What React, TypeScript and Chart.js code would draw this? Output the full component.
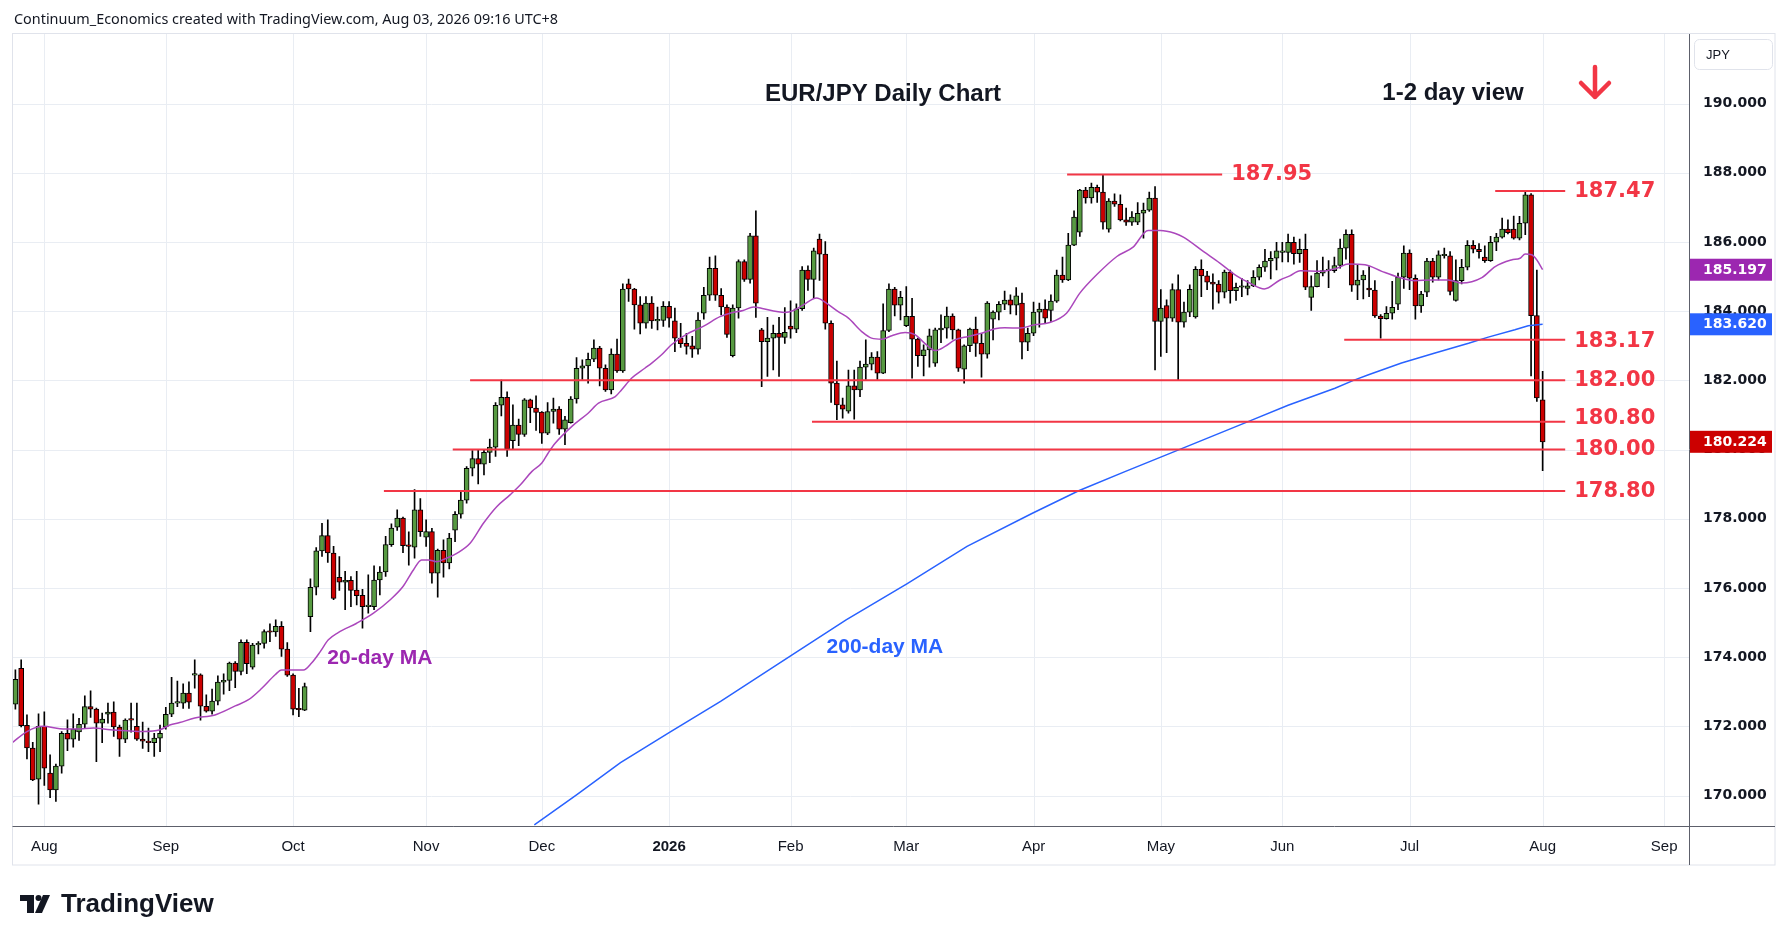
import React, { useEffect, useRef } from "react";
import { Chart, registerables } from "chart.js";

Chart.register(...registerables);

const W = 1789;
const H = 941;

// ---- Daily candles, first bar = index -5 (late Jul 2025), last = index 259 (Aug 03, 2026)
const FIRST_BAR = -5;

const opens = [
  172.64, 173.68, 172.03, 171.37, 170.47, 172.0, 170.65, 170.16, 170.85, 171.8,
  171.63, 171.84, 172.06, 172.57, 172.5, 172.09, 172.35, 172.41, 171.98, 171.63,
  172.22, 172.0, 171.63, 171.57, 171.53, 171.66, 171.98, 172.35, 172.67, 172.67,
  172.96, 173.48, 173.49, 172.58, 172.44, 172.73, 173.28, 173.33, 173.83, 173.59,
  174.43, 173.71, 174.35, 174.4, 174.74, 174.73, 174.89, 174.23, 173.48, 172.5,
  172.47, 175.17, 176.02, 177.07, 177.51, 177.01, 176.31, 176.17, 176.22, 175.94,
  175.79, 175.46, 175.46, 176.23, 176.46, 177.25, 177.76, 178.02, 177.22, 177.18,
  178.26, 177.47, 177.63, 176.43, 177.09, 176.72, 177.67, 178.13, 178.54, 179.46,
  179.74, 179.58, 179.92, 180.07, 181.28, 181.51, 180.26, 180.71, 180.44, 181.44,
  181.2, 181.08, 180.47, 181.1, 181.17, 180.59, 180.78, 181.46, 182.35, 182.42,
  182.61, 182.93, 182.35, 181.72, 182.76, 182.27, 184.79, 184.64, 184.18, 183.65,
  184.23, 183.72, 183.73, 184.14, 183.72, 183.22, 183.07, 183.0, 182.9, 183.94,
  184.46, 185.24, 184.46, 184.12, 182.71, 184.09, 185.43, 184.92, 186.18, 183.46,
  183.12, 183.22, 183.36, 183.24, 183.57, 183.48, 184.07, 185.19, 184.92, 186.08,
  185.65, 183.65, 181.92, 181.29, 181.11, 181.84, 181.72, 182.38, 182.47, 182.67,
  182.21, 183.44, 184.64, 184.17, 183.58, 183.85, 183.19, 182.71, 182.88, 182.5,
  183.46, 183.51, 183.86, 183.46, 182.32, 183.0, 183.48, 183.07, 182.76, 183.77,
  183.97, 184.2, 184.33, 184.17, 184.23, 183.1, 183.36, 183.97, 184.06, 184.02,
  184.29, 185.04, 184.9, 185.91, 186.28, 187.5, 187.27, 187.58, 187.44, 186.37,
  187.18, 187.09, 186.64, 186.57, 186.57, 186.83, 186.92, 187.27, 183.7, 184.16,
  183.8, 184.62, 183.68, 183.97, 183.83, 185.21, 185.02, 184.84, 184.78, 184.55,
  185.13, 184.59, 184.69, 184.66, 184.73, 184.98, 185.27, 185.45, 185.53, 185.7,
  185.7, 185.99, 185.66, 185.79, 184.4, 184.71, 185.1, 185.17, 185.17, 185.32,
  185.82, 186.22, 184.75, 184.9, 184.67, 184.61, 183.86, 183.78, 183.94, 184.2,
  184.98, 185.68, 184.95, 184.15, 184.55, 185.45, 184.98, 185.6, 185.6, 184.31,
  184.88, 185.27, 185.9, 185.79, 185.56, 185.46, 185.99, 186.14, 186.37, 186.37,
  186.11, 186.54, 187.36, 183.87, 181.44,
];

const highs = [
  173.63, 173.92, 172.33, 171.54, 172.36, 172.42, 171.18, 170.91, 171.85, 172.19,
  172.36, 172.23, 172.88, 173.03, 172.53, 172.38, 172.67, 172.71, 172.04, 172.22,
  172.67, 172.67, 172.12, 171.95, 171.8, 172.04, 172.55, 173.42, 173.31, 173.23,
  173.29, 173.92, 173.52, 172.91, 173.08, 173.46, 173.52, 173.86, 173.87, 174.5,
  174.5, 174.4, 174.45, 174.79, 174.96, 175.08, 175.03, 174.42, 173.52, 173.1,
  173.25, 176.26, 177.17, 177.87, 177.97, 177.2, 176.91, 176.48, 176.33, 176.48,
  175.96, 176.38, 176.64, 176.62, 177.49, 177.85, 178.26, 178.05, 177.62, 178.84,
  178.58, 177.97, 177.72, 177.12, 177.39, 177.58, 178.21, 178.78, 179.51, 179.97,
  179.99, 179.99, 180.3, 181.36, 182.01, 181.67, 181.29, 180.88, 181.47, 181.46,
  181.55, 181.1, 181.36, 181.49, 181.24, 180.96, 181.53, 182.66, 182.59, 182.79,
  183.17, 182.98, 182.45, 182.91, 183.19, 184.79, 184.93, 184.66, 184.42, 184.42,
  184.42, 184.12, 184.28, 184.28, 184.09, 183.65, 183.36, 183.27, 183.96, 184.69,
  185.56, 185.6, 184.65, 184.18, 184.18, 185.48, 185.48, 186.25, 186.9, 183.5,
  183.82, 183.6, 183.82, 184.1, 184.3, 184.21, 185.29, 185.31, 185.82, 186.23,
  186.01, 183.72, 182.56, 181.49, 182.3, 182.3, 182.56, 183.17, 182.8, 182.83,
  184.21, 184.79, 184.69, 184.57, 184.71, 184.37, 183.22, 183.03, 183.48, 183.51,
  183.89, 184.12, 183.92, 183.48, 183.03, 183.51, 183.83, 183.36, 184.28, 184.01,
  184.28, 184.58, 184.47, 184.68, 184.52, 183.51, 184.26, 184.23, 184.33, 184.47,
  185.19, 185.56, 186.25, 186.9, 187.52, 187.58, 187.7, 187.64, 187.95, 187.25,
  187.39, 187.36, 186.98, 186.88, 187.14, 187.12, 187.44, 187.6, 184.62, 184.33,
  184.79, 185.05, 184.26, 184.76, 185.29, 185.48, 185.15, 185.08, 184.88, 185.19,
  185.19, 184.81, 184.95, 184.88, 185.17, 185.34, 185.79, 185.72, 185.99, 185.99,
  186.23, 186.14, 186.08, 186.23, 185.02, 185.46, 185.56, 185.46, 185.56, 186.08,
  186.35, 186.35, 185.34, 185.17, 185.29, 184.88, 183.9, 184.13, 184.86, 185.1,
  185.89, 185.77, 185.05, 184.57, 185.53, 185.53, 185.74, 185.82, 185.72, 185.48,
  185.5, 186.04, 186.04, 185.95, 185.89, 186.16, 186.25, 186.69, 186.64, 186.75,
  186.74, 187.47, 187.4, 185.19, 182.26,
];

const lows = [
  172.5, 171.98, 171.06, 170.43, 169.75, 170.29, 169.94, 169.83, 170.65, 171.3,
  171.4, 171.59, 171.95, 172.26, 170.98, 171.53, 172.09, 171.71, 171.13, 171.53,
  171.83, 171.59, 171.36, 171.27, 171.13, 171.27, 171.92, 172.28, 172.57, 172.52,
  172.52, 173.1, 172.18, 172.41, 172.35, 172.62, 172.93, 173.03, 173.12, 173.49,
  173.52, 173.65, 174.09, 174.26, 174.45, 174.6, 174.02, 173.44, 172.33, 172.28,
  172.45, 174.74, 175.8, 176.91, 176.74, 175.66, 175.93, 175.37, 175.46, 175.51,
  174.84, 175.27, 175.37, 175.8, 176.33, 177.2, 177.66, 177.02, 176.66, 176.86,
  177.49, 177.2, 176.14, 175.73, 176.31, 176.55, 177.34, 178.02, 178.45, 179.24,
  179.01, 179.27, 179.62, 179.8, 180.97, 179.8, 180.01, 180.11, 180.38, 180.78,
  180.55, 180.18, 180.43, 180.76, 180.44, 180.14, 180.76, 181.34, 182.03, 181.92,
  182.54, 181.84, 181.68, 181.61, 182.23, 182.23, 184.28, 183.48, 183.34, 183.51,
  183.5, 183.46, 183.56, 183.54, 182.83, 182.95, 182.76, 182.66, 182.76, 183.77,
  184.31, 184.31, 183.89, 183.24, 182.68, 183.8, 184.86, 184.81, 183.82, 181.82,
  182.11, 182.3, 182.11, 183.07, 183.22, 183.38, 184.02, 184.6, 184.39, 184.89,
  183.48, 181.36, 180.86, 180.91, 181.05, 180.88, 181.53, 182.03, 182.3, 182.03,
  182.19, 183.41, 183.86, 183.75, 183.55, 182.06, 182.4, 182.13, 182.38, 182.4,
  183.09, 183.22, 183.19, 182.26, 181.92, 182.83, 182.69, 182.09, 182.64, 183.17,
  183.75, 184.04, 183.92, 183.89, 182.62, 182.86, 183.29, 183.54, 183.67, 183.7,
  184.25, 184.83, 184.88, 185.89, 186.16, 187.12, 187.12, 187.14, 186.37, 186.28,
  187.03, 186.61, 186.48, 186.48, 186.5, 186.11, 186.88, 182.3, 182.69, 182.8,
  183.7, 182.01, 183.54, 183.84, 183.8, 184.42, 184.62, 184.06, 184.23, 184.38,
  184.23, 184.31, 184.42, 184.47, 184.71, 184.9, 185.15, 184.93, 185.19, 185.42,
  185.42, 185.36, 185.41, 184.62, 184.02, 184.7, 185.02, 184.68, 185.12, 185.24,
  185.5, 184.57, 184.33, 184.35, 184.42, 183.82, 183.22, 183.77, 183.77, 184.04,
  184.66, 184.62, 183.77, 183.96, 184.42, 184.84, 184.9, 185.53, 184.47, 184.29,
  184.79, 185.19, 185.68, 185.53, 185.41, 185.44, 185.75, 186.11, 186.23, 186.08,
  186.06, 186.21, 182.13, 181.39, 179.39,
];

const closes = [
  173.36, 172.02, 171.38, 170.45, 172.0, 170.79, 170.16, 170.85, 171.8, 171.63,
  171.92, 172.06, 172.57, 172.5, 172.09, 172.21, 172.41, 171.98, 171.63, 172.18,
  172.18, 171.63, 171.57, 171.53, 171.66, 171.8, 172.35, 172.67, 172.69, 172.96,
  172.7, 173.51, 172.58, 172.44, 172.73, 173.28, 173.33, 173.83, 173.59, 174.43,
  173.81, 174.35, 174.4, 174.74, 174.72, 174.89, 174.23, 173.48, 172.5, 172.48,
  173.15, 176.02, 177.07, 177.51, 177.01, 175.7, 176.17, 176.22, 175.93, 175.78,
  175.46, 175.48, 176.23, 176.46, 177.25, 177.73, 178.02, 177.22, 177.2, 178.26,
  177.63, 177.63, 176.43, 177.09, 176.72, 177.44, 178.13, 178.54, 179.46, 179.74,
  179.58, 179.92, 180.07, 181.28, 181.51, 180.01, 180.71, 180.44, 181.44, 181.2,
  181.07, 180.47, 181.1, 181.17, 180.59, 180.86, 181.46, 182.35, 182.42, 182.61,
  182.93, 182.35, 181.72, 182.76, 182.27, 184.64, 184.64, 184.18, 183.65, 184.23,
  183.72, 183.74, 184.14, 183.8, 183.22, 183.06, 182.98, 182.9, 183.74, 184.46,
  185.24, 184.46, 184.12, 183.33, 184.09, 185.43, 184.92, 186.18, 184.23, 183.12,
  183.22, 183.36, 183.24, 183.39, 183.48, 184.07, 185.19, 184.92, 185.74, 185.65,
  183.65, 181.92, 181.29, 181.17, 181.84, 181.72, 182.38, 182.47, 182.67, 182.21,
  183.44, 184.64, 184.17, 184.4, 183.85, 183.19, 182.71, 182.88, 183.29, 183.46,
  183.51, 183.86, 183.46, 182.35, 183.0, 183.48, 183.07, 182.76, 184.23, 183.97,
  184.2, 184.32, 184.17, 184.44, 183.1, 183.36, 183.97, 184.06, 183.8, 184.29,
  185.04, 184.9, 185.91, 186.72, 187.5, 187.27, 187.58, 187.44, 186.57, 187.18,
  187.09, 186.64, 186.57, 186.72, 186.83, 186.92, 187.27, 183.7, 184.09, 183.8,
  184.62, 183.68, 183.97, 184.63, 185.21, 185.02, 184.84, 184.78, 184.55, 185.13,
  184.59, 184.69, 184.71, 184.73, 184.98, 185.27, 185.45, 185.53, 185.74, 185.72,
  185.99, 185.66, 185.79, 184.69, 184.71, 185.1, 185.17, 185.19, 185.32, 185.82,
  186.22, 184.75, 184.9, 185.04, 184.61, 183.86, 183.78, 183.94, 184.11, 184.98,
  185.68, 184.95, 184.15, 184.49, 185.45, 184.98, 185.63, 185.62, 184.57, 184.88,
  185.27, 185.9, 185.79, 185.72, 185.46, 185.99, 186.14, 186.37, 186.27, 186.11,
  186.54, 187.36, 183.87, 181.49, 180.224,
];

// ---- 20-day MA (bar position, value)
const ma20X = [
  -5.6, -3.0, -0.2, 2.7, 5.6, 8.5, 11.4, 14.2, 17.1, 20.0, 21.7, 23.4, 26.0, 29.5, 33.0, 35.3,
  37.6, 39.9, 41.0, 44.8, 46.2, 47.7, 49.1, 50.8, 54.0, 56.9, 59.8, 62.0, 63.8, 65.2, 66.4,
  67.8, 69.5, 71.3, 73.6, 75.9, 78.2, 80.5, 82.3, 84.3, 86.0, 87.1, 88.3, 91.2, 94.0, 95.8,
  98.7, 99.8, 101.5, 103.8, 105.0, 106.7, 108.4, 111.0, 113.9, 116.8, 118.5, 120.8, 122.6,
  124.3, 126.6, 128.0, 129.5, 131.2, 133.5, 135.2, 137.3, 139.0, 141.3, 143.0, 144.8, 146.5,
  148.8, 150.5, 152.2, 154.0, 155.7, 157.4, 159.7, 162.0, 164.3, 166.0, 168.7, 171.0, 173.8,
  176.7, 179.0, 181.9, 185.4, 188.2, 190.8, 192.9, 195.4, 196.9, 200.4, 203.2, 206.1, 208.4,
  210.9, 213.6, 215.3, 217.1, 220.5, 223.4, 225.4, 228.3, 231.2, 234.1, 236.9, 239.8, 242.7,
  245.0, 248.5, 250.8, 253.6, 255.1, 256.0, 257.1, 258.0, 259.0,
];
const ma20Y = [
  171.52, 171.85, 172.0, 171.93, 171.92, 171.95, 171.9, 171.87, 171.85, 171.9, 172.04, 172.11,
  172.24, 172.33, 172.59, 172.77, 173.1, 173.49, 173.63, 173.63, 173.83, 174.16, 174.5, 174.71,
  174.98, 175.27, 175.66, 176.04, 176.52, 176.81, 176.81, 176.76, 176.86, 177.0, 177.29, 177.87,
  178.35, 178.69, 178.98, 179.37, 179.61, 179.9, 180.18, 180.67, 181.05, 181.34, 181.53, 181.73,
  182.06, 182.35, 182.5, 182.74, 183.03, 183.33, 183.56, 183.84, 183.94, 184.02, 184.12, 184.07,
  183.99, 183.96, 184.02, 184.18, 184.38, 184.23, 183.98, 183.8, 183.41, 183.22, 183.19, 183.29,
  183.38, 183.32, 183.07, 182.86, 182.98, 183.17, 183.27, 183.36, 183.49, 183.52, 183.51, 183.6,
  183.67, 183.94, 184.52, 185.05, 185.58, 185.85, 186.33, 186.33, 186.25, 186.14, 185.72, 185.39,
  185.02, 184.81, 184.64, 184.9, 185.02, 185.17, 185.15, 185.24, 185.36, 185.34, 185.15, 184.98,
  184.88, 184.9, 184.9, 184.81, 184.97, 185.29, 185.48, 185.53, 185.65, 185.63, 185.48, 185.197,
];

// ---- 200-day MA (bar position, value)
const ma200X = [
  84.7, 92.0, 99.6, 108.0, 116.9, 129.0, 138.6, 149.1, 159.5, 170.8, 178.8, 186.9, 196.5,
  208.4, 215.0, 223.1, 226.3, 228.9, 234.6, 240.4, 246.2, 249.6, 254.2, 256.5, 259.0,
];
const ma200Y = [
  169.15, 170.02, 170.95, 171.82, 172.72, 174.04, 175.08, 176.12, 177.2, 178.16, 178.81, 179.37,
  180.02, 180.83, 181.28, 181.77, 182.0, 182.16, 182.5, 182.79, 183.07, 183.25, 183.46, 183.58,
  183.62,
];

// ---- Horizontal levels
const levelValues = [187.95, 187.47, 183.17, 182.0, 180.8, 180.0, 178.8];
const levelTexts = ["187.95", "187.47", "183.17", "182.00", "180.80", "180.00", "178.80"];
const levelStart = [176.8, 250.8, 224.7, 73.6, 132.7, 70.6, 58.7];
const levelEnd = [203.6, 262.9, 262.9, 262.9, 262.9, 262.9, 262.9];

// ---- Axes
const monthIdx = [0, 21, 43, 66, 86, 108, 129, 149, 171, 193, 214, 236, 259, 280];
const monthLabels = ["Aug", "Sep", "Oct", "Nov", "Dec", "2026", "Feb", "Mar", "Apr", "May", "Jun", "Jul", "Aug", "Sep"];
const priceTicks = [170, 172, 174, 176, 178, 180, 182, 184, 186, 188, 190];

const lastMa20 = 185.197;
const lastMa200 = 183.62;
const lastClose = 180.224;

const GREEN = "#579a41";
const RED_CANDLE = "#cc0000";
const LEVEL_RED = "#f23645";
const PURPLE = "#ab47bc";
const BLUE = "#2962ff";
const GRID = "#e9edf3";
const TEXT = "#131722";

const PLOT_LEFT = 12.5;
const PLOT_TOP = 34;
const PLOT_RIGHT = 1689;
const PLOT_BOTTOM = 826;

export default function App() {
  const ref = useRef<HTMLCanvasElement>(null);

  useEffect(() => {
    document.body.style.margin = "0";
    const canvas = ref.current;
    if (!canvas) return;

    const bodies = opens.map((o, k) => ({ x: FIRST_BAR + k, y: [o, closes[k]] }));
    const wicks = lows.map((l, k) => ({ x: FIRST_BAR + k, y: [l, highs[k]] }));
    const fills = opens.map((o, k) => (closes[k] >= o ? GREEN : RED_CANDLE));

    const levelSets = levelValues.map((v, k) => ({
      type: "line" as const,
      data: [
        { x: levelStart[k], y: v },
        { x: levelEnd[k], y: v },
      ],
      borderColor: LEVEL_RED,
      borderWidth: 2,
      pointRadius: 0,
      order: 1,
    }));

    const overlay = {
      id: "overlay",
      beforeDatasetsDraw(chart: any) {
        const { ctx, chartArea, scales } = chart;
        const xs = scales.x;
        const ys = scales.y;
        ctx.save();
        ctx.strokeStyle = GRID;
        ctx.lineWidth = 1;
        for (const v of priceTicks) {
          const py = Math.round(ys.getPixelForValue(v)) + 0.5;
          ctx.beginPath();
          ctx.moveTo(chartArea.left, py);
          ctx.lineTo(chartArea.right, py);
          ctx.stroke();
        }
        for (const i of monthIdx) {
          const px = Math.round(xs.getPixelForValue(i)) + 0.5;
          ctx.beginPath();
          ctx.moveTo(px, chartArea.top);
          ctx.lineTo(px, chartArea.bottom);
          ctx.stroke();
        }
        ctx.restore();
      },
      afterDraw(chart: any) {
        const { ctx, scales } = chart;
        const xs = scales.x;
        const ys = scales.y;
        ctx.save();

        // header
        ctx.fillStyle = TEXT;
        ctx.textBaseline = "middle";
        ctx.textAlign = "left";
        ctx.font = '14.4px "Noto Sans"';
        ctx.fillText("Continuum_Economics created with TradingView.com, Aug 03, 2026 09:16 UTC+8", 14, 20);

        // frame
        ctx.strokeStyle = "#e0e3eb";
        ctx.lineWidth = 1;
        ctx.strokeRect(12.5, 33.5, 1775 - 12.5, 865 - 33.5);

        // axis separators
        ctx.strokeStyle = "#5d606b";
        ctx.beginPath();
        ctx.moveTo(PLOT_RIGHT + 0.5, PLOT_TOP);
        ctx.lineTo(PLOT_RIGHT + 0.5, 865);
        ctx.moveTo(PLOT_LEFT, PLOT_BOTTOM + 0.5);
        ctx.lineTo(1775, PLOT_BOTTOM + 0.5);
        ctx.stroke();

        // price axis labels
        ctx.fillStyle = TEXT;
        ctx.font = 'bold 14px "DejaVu Sans"';
        for (const v of priceTicks) {
          ctx.fillText(v.toFixed(3), 1703, ys.getPixelForValue(v));
        }

        // JPY box
        ctx.strokeStyle = "#e0e3eb";
        ctx.beginPath();
        (ctx as any).roundRect(1694.5, 39.5, 78, 30, 5);
        ctx.stroke();
        ctx.fillStyle = TEXT;
        ctx.font = '13px "Liberation Sans"';
        ctx.fillText("JPY", 1706, 55);

        // value boxes
        const box = (v: number, color: string) => {
          const py = ys.getPixelForValue(v);
          ctx.fillStyle = color;
          ctx.fillRect(PLOT_RIGHT + 1, py - 11, 82, 22);
          ctx.fillStyle = "#ffffff";
          ctx.font = 'bold 14px "DejaVu Sans"';
          ctx.fillText(v.toFixed(3), 1703, py + 0.5);
        };
        box(lastMa20, "#9c27b0");
        box(lastMa200, BLUE);
        box(lastClose, RED_CANDLE);

        // time axis labels
        ctx.textAlign = "center";
        ctx.fillStyle = TEXT;
        monthIdx.forEach((i, k) => {
          ctx.font = monthLabels[k] === "2026" ? 'bold 15px "Liberation Sans"' : '15px "Liberation Sans"';
          ctx.fillText(monthLabels[k], xs.getPixelForValue(i), 847);
        });

        // titles
        ctx.font = 'bold 24px "Liberation Sans"';
        ctx.fillText("EUR/JPY Daily Chart", 883, 94);
        ctx.fillText("1-2 day view", 1453, 93);

        // arrow
        ctx.strokeStyle = LEVEL_RED;
        ctx.lineWidth = 4.5;
        ctx.lineCap = "round";
        ctx.lineJoin = "round";
        ctx.beginPath();
        ctx.moveTo(1595, 67);
        ctx.lineTo(1595, 97);
        ctx.moveTo(1581, 83);
        ctx.lineTo(1595, 97);
        ctx.lineTo(1609, 83);
        ctx.stroke();

        // level labels
        ctx.textAlign = "left";
        ctx.fillStyle = LEVEL_RED;
        ctx.font = 'bold 21px "DejaVu Sans"';
        levelValues.forEach((v, k) => {
          const off = v === 180.8 ? -3 : v === 183.17 ? 2 : 0;
          ctx.fillText(levelTexts[k], xs.getPixelForValue(levelEnd[k]) + 9, ys.getPixelForValue(v) + off);
        });

        // MA labels
        ctx.textAlign = "center";
        ctx.font = 'bold 21px "Liberation Sans"';
        ctx.fillStyle = "#9c27b0";
        ctx.fillText("20-day MA", xs.getPixelForValue(58.0), ys.getPixelForValue(173.98));
        ctx.fillStyle = BLUE;
        ctx.fillText("200-day MA", xs.getPixelForValue(145.3), ys.getPixelForValue(174.3));

        // TradingView logo
        ctx.fillStyle = TEXT;
        ctx.fillRect(20, 895, 14, 6);
        ctx.fillRect(27, 895, 7, 18);
        ctx.beginPath();
        ctx.arc(38.5, 898, 3, 0, Math.PI * 2);
        ctx.fill();
        ctx.beginPath();
        ctx.moveTo(43, 895);
        ctx.lineTo(50, 895);
        ctx.lineTo(42, 913);
        ctx.lineTo(35, 913);
        ctx.closePath();
        ctx.fill();
        ctx.textAlign = "left";
        ctx.font = 'bold 26px "Liberation Sans"';
        ctx.fillText("TradingView", 61, 905);

        ctx.restore();
      },
    };

    const chart = new Chart(canvas, {
      type: "bar",
      data: {
        datasets: [
          {
            type: "bar",
            data: wicks as any,
            backgroundColor: "#000000",
            borderWidth: 0,
            barThickness: 1,
            grouped: false,
            order: 5,
          } as any,
          {
            type: "bar",
            data: bodies as any,
            backgroundColor: fills,
            borderColor: "#000000",
            borderWidth: 1,
            borderSkipped: false,
            barThickness: 5,
            minBarLength: 1.5,
            grouped: false,
            order: 4,
          } as any,
          {
            type: "line",
            data: ma200X.map((x, k) => ({ x, y: ma200Y[k] })),
            borderColor: BLUE,
            borderWidth: 1.5,
            pointRadius: 0,
            order: 3,
          } as any,
          {
            type: "line",
            data: ma20X.map((x, k) => ({ x, y: ma20Y[k] })),
            borderColor: PURPLE,
            borderWidth: 1.5,
            pointRadius: 0,
            cubicInterpolationMode: "monotone",
            order: 2,
          } as any,
          ...(levelSets as any),
        ],
      },
      options: {
        responsive: false,
        animation: false,
        devicePixelRatio: 1,
        events: [],
        layout: {
          padding: {
            left: PLOT_LEFT,
            top: PLOT_TOP,
            right: W - PLOT_RIGHT,
            bottom: H - PLOT_BOTTOM,
          },
        },
        plugins: {
          legend: { display: false },
          tooltip: { enabled: false },
        },
        scales: {
          x: { type: "linear", min: -5.5, max: 284.3, offset: false, display: false },
          y: { type: "linear", min: 169.12, max: 192.01, display: false },
        },
      } as any,
      plugins: [overlay],
    });

    return () => chart.destroy();
  }, []);

  return (
    <div style={{ width: W, height: H, position: "relative", background: "#ffffff" }}>
      <canvas ref={ref} width={W} height={H} style={{ display: "block", width: W, height: H }} />
    </div>
  );
}
